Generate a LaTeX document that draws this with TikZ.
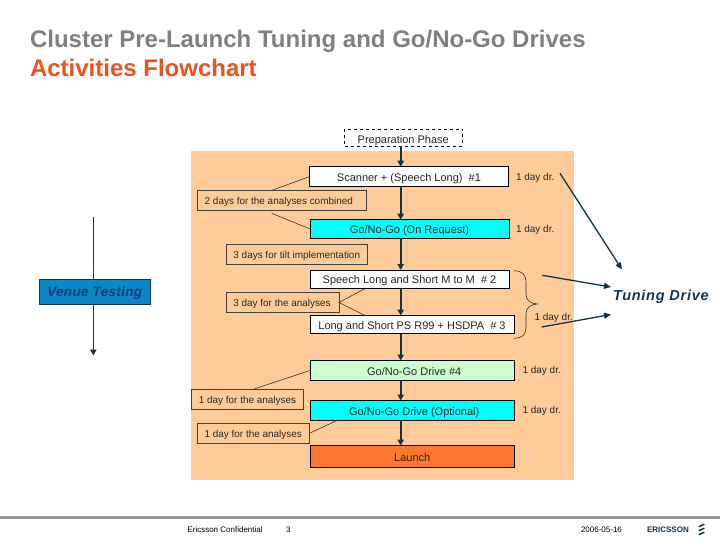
\documentclass[tikz,border=0pt]{standalone}
\usepackage{fontspec}
\setmainfont{Liberation Sans}
\usetikzlibrary{arrows.meta,calc}
\definecolor{panel}{HTML}{FFCC99}
\definecolor{navy}{HTML}{12354F}
\definecolor{titlegray}{HTML}{808080}
\definecolor{titleorange}{HTML}{E9531D}
\definecolor{mint}{HTML}{CCFFCC}
\definecolor{cyanbox}{HTML}{00FFFF}
\definecolor{launchc}{HTML}{FF7733}
\definecolor{venue}{HTML}{0A85C6}
\definecolor{venuetxt}{HTML}{0F3F78}
\tikzset{
 every node/.style={inner sep=0pt,outer sep=0pt},
 stepbox/.style={font=\fontsize{11}{13}\selectfont,text=black!85,text height=10pt,text depth=1pt,draw=black,line width=0.9pt,anchor=north west},
 notebox/.style={font=\fontsize{9.95}{12}\selectfont,text=black!85,text height=9.4pt,text depth=1pt,draw=black!75,line width=0.7pt,anchor=north west},
 flow/.style={draw=navy,line width=1.8pt,-{Triangle[length=6pt,width=6.5pt]}},
 thin link/.style={draw=black!80,line width=0.6pt},
 tune/.style={draw=navy,line width=1.3pt,-{Triangle[length=7pt,width=6pt]}},
 dur/.style={font=\fontsize{10}{12}\selectfont,text=black!85,anchor=west},
 foot/.style={anchor=west,font=\fontsize{8}{10}\selectfont,text=black},
}
\begin{document}
\begin{tikzpicture}[x=1pt,y=-1pt]
\useasboundingbox (0,0) rectangle (720,540);
\fill[white] (0,0) rectangle (720,540);
% title
\node[anchor=base west,font=\bfseries\fontsize{24}{28}\selectfont,text=titlegray] (title1) at (30,48) {Cluster Pre-Launch Tuning and Go/No-Go Drives};
\node[anchor=base west,font=\bfseries\fontsize{24}{28}\selectfont,text=titleorange] (title2) at (30,76.5) {Activities Flowchart};
% panel
\node[fill=panel,anchor=north west,minimum width=383pt,minimum height=329pt] (panelbox) at (191,151) {};
% main boxes
\node[font=\fontsize{11}{13}\selectfont,text=black!85,text height=13pt,text depth=1pt,draw=black,line width=0.8pt,dashed,anchor=north west,minimum width=117.5pt,minimum height=17pt] (prep) at (344.5,129) {Preparation Phase};
\node[stepbox,fill=white,minimum width=199.5pt,minimum height=20pt] (scan) at (309.2,166.7) {Scanner + (Speech Long)\ \ \#1};
\node[stepbox,fill=cyanbox,minimum width=199pt,minimum height=18.5pt] (gonogo) at (310,219.7) {Go/No-Go (On Request)};
\node[stepbox,fill=white,minimum width=199pt,minimum height=18.5pt] (speech) at (310,270) {Speech Long and Short M to M\ \ \# 2};
\node[stepbox,fill=white,minimum width=204pt,minimum height=18pt] (longs) at (310,315.5) {Long and Short PS R99 + HSDPA\ \ \# 3};
\node[stepbox,fill=mint,minimum width=204.5pt,minimum height=20pt] (drive4) at (310,360.5) {\hspace*{4pt}Go/No-Go Drive \#4};
\node[stepbox,fill=cyanbox,minimum width=204.5pt,minimum height=20pt] (opt) at (310,400.5) {\hspace*{4pt}Go/No-Go Drive (Optional)};
\node[stepbox,fill=launchc,minimum width=204.5pt,minimum height=22pt] (launch) at (310,445.5) {Launch};
% note boxes
\node[notebox,minimum width=169pt,minimum height=20pt] (n2days) at (197.3,190.3) {\hspace*{-6pt}2 days for the analyses combined};
\node[notebox,minimum width=141.5pt,minimum height=20pt] (n3days) at (226,244.5) {3 days for tilt implementation};
\node[notebox,minimum width=113pt,minimum height=20pt] (n3day) at (226,292.5) {\hspace*{-1pt}3 day for the analyses};
\node[notebox,minimum width=112pt,minimum height=20pt] (n1a) at (191.5,389) {1 day for the analyses};
\node[notebox,minimum width=112.5pt,minimum height=20.5pt] (n1b) at (197,423) {1 day for the analyses};
% duration labels
\node[dur] (d1) at (516,178) {1 day dr.};
\node[dur] (d2) at (516,229.5) {1 day dr.};
\node[dur] (d3) at (534.5,317.5) {1 day dr.};
\node[dur] (d4) at (522.5,371) {1 day dr.};
\node[dur] (d5) at (522.5,411) {1 day dr.};
% spine arrows
\coordinate (spine) at (400.7,0);
\draw[flow] (spine |- prep.south) -- (spine |- scan.north);
\draw[flow] (spine |- scan.south) -- (spine |- gonogo.north);
\draw[flow] (spine |- gonogo.south) -- (spine |- speech.north);
\draw[flow] (spine |- speech.south) -- (spine |- longs.north);
\draw[flow] (spine |- longs.south) -- (spine |- drive4.north);
\draw[flow] (spine |- drive4.south) -- (spine |- opt.north);
\draw[flow] (spine |- opt.south) -- (spine |- launch.north);
% thin links
\draw[thin link] (scan.west) -- (272,190.3);
\draw[thin link] (271.7,213.3) -- (gonogo.west);
\draw[thin link] (365,288.5) -- (n3day.east) -- (365,315.5);
\draw[thin link] (drive4.west) -- (254,389);
\draw[thin link] (337,420.5) -- (n1b.east);
% venue
\node[anchor=north west,fill=venue,draw=navy,line width=0.9pt,minimum width=111.5pt,minimum height=25pt,text height=10pt,text depth=0pt,font=\bfseries\itshape\fontsize{13.5}{15}\selectfont\addfontfeatures{LetterSpace=2.5},text=venuetxt] (venuebox) at (39,279) {Venue Testing};
\coordinate (vtop) at (93.3,217);
\coordinate (vbot) at (93.3,355.5);
\draw[navy,line width=0.9pt] (vtop) -- (vtop |- venuebox.north);
\draw[navy,line width=0.9pt,-{Triangle[length=6pt,width=6.5pt]}] (vtop |- venuebox.south) -- (vbot);
% brace
\draw[black!80,line width=0.6pt] (514,270.7) .. controls (522,271) and (526,274) .. (526,283) -- (526,294)
  .. controls (526,300) and (530,303.5) .. (537,304) .. controls (530,304.5) and (526,308) .. (526,314) -- (526,328)
  .. controls (526,335) and (522,338) .. (514,338.3);
% tuning drive
\node[anchor=base west,font=\bfseries\itshape\fontsize{14.5}{17}\selectfont\addfontfeatures{LetterSpace=5},text=navy] (tuning) at (613,300.5) {Tuning Drive};
\coordinate (t1) at (560,173.3);
\coordinate (t1e) at (622,269.5);
\coordinate (t2) at (542.3,275.3);
\coordinate (t2e) at (611,287);
\coordinate (t3) at (541.7,327);
\coordinate (t3e) at (611,314.5);
\draw[tune] (t1) -- (t1e);
\draw[tune] (t2) -- (t2e);
\draw[tune] (t3) -- (t3e);
% footer
\fill[black!40] (0,516) rectangle (720,518.8);
\node[foot] (conf) at (187.5,530) {Ericsson Confidential};
\node[foot] (pg) at (286,530) {3};
\node[foot] (date) at (581,530) {2006-05-16};
\node[anchor=west,font=\bfseries\fontsize{8}{9}\selectfont,text=navy] (eric) at (647,530) {ERICSSON};
\coordinate (logo) at (701.5,530);
\foreach \dy in {-4.5,-0.5,3.5}
  \draw[navy,line width=1.5pt] ($(logo)+(-2.8,\dy+1.2)$) -- ($(logo)+(2.8,\dy-1.2)$);
\end{tikzpicture}
\end{document}
